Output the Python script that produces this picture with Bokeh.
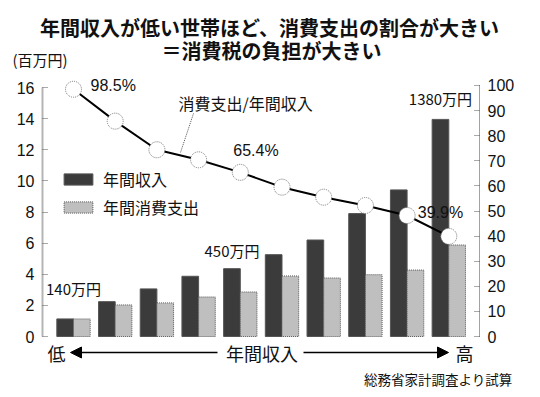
from bokeh.plotting import figure
from bokeh.layouts import column
from bokeh.models import (Range1d, LinearAxis, Label, Arrow, NormalHead,
                          Legend, LegendItem, ColumnDataSource, FixedTicker)
from bokeh.transform import dodge
from bokeh.embed import file_html
from bokeh.resources import INLINE

# ---- data ----
groups = [1, 2, 3, 4, 5, 6, 7, 8, 9, 10]
income = [1.13, 2.24, 3.06, 3.87, 4.36, 5.26, 6.2, 7.9, 9.42, 13.95]      # 百万円
spending = [1.13, 2.03, 2.16, 2.54, 2.86, 3.89, 3.76, 3.97, 4.27, 5.88]   # 百万円
ratio = [98.5, 85.8, 74.4, 70.4, 65.4, 59.5, 55.5, 52.2, 48.2, 39.9]      # %
left_ticks = [0, 2, 4, 6, 8, 10, 12, 14, 16]
right_ticks = [0, 10, 20, 30, 40, 50, 60, 70, 80, 90, 100]
income_labels = {1: "140万円", 5: "450万円", 10: "1380万円"}
ratio_labels = {1: "98.5%", 5: "65.4%", 10: "39.9%"}
title_lines = ["年間収入が低い世帯ほど、消費支出の割合が大きい", "＝消費税の負担が大きい"]
unit_text = "(百万円)"
source_text = "総務省家計調査より試算"

JP = "Noto Sans CJK JP"
NUM = "Liberation Sans"
DARK = "#3b3b3b"
LIGHT = "#bfbfbf"
INK = "#111111"
W = 524


def blank(height):
    f = figure(width=W, height=height, output_backend="svg", toolbar_location=None,
               x_range=Range1d(0, W), y_range=Range1d(0, height),
               x_axis_location=None, y_axis_location=None,
               min_border=0, min_border_left=0, min_border_right=0,
               min_border_top=0, min_border_bottom=0, frame_align=False)
    f.outline_line_color = None
    f.xgrid.visible = False
    f.ygrid.visible = False
    return f


# ---- header (titles) ----
top = blank(70)
top.add_layout(Label(x=269, y=43, text=title_lines[0], text_align="center", text_baseline="middle",
                     text_font=JP, text_font_size="20px", text_font_style="bold", text_color=INK))
top.add_layout(Label(x=271, y=20, text=title_lines[1], text_align="center", text_baseline="middle",
                     text_font=JP, text_font_size="20px", text_font_style="bold", text_color=INK))
top.add_layout(Label(x=12, y=11, text=unit_text, text_align="left", text_baseline="middle",
                     text_font=JP, text_font_size="15px", text_color=INK))

# ---- main chart ----
src = ColumnDataSource(dict(x=groups, income=income, spending=spending, ratio=ratio))

p = figure(width=W, height=296, output_backend="svg", toolbar_location=None,
           x_range=Range1d(0.2566, 10.736), y_range=Range1d(-1.9277, 17.0924),
           x_axis_location=None, frame_align=False,
           min_border_left=42, min_border_right=45, min_border_top=0, min_border_bottom=0)
p.outline_line_color = None
p.xgrid.visible = False
p.ygrid.visible = False
p.extra_y_ranges = {"pct": Range1d(-11.952, 105.976)}

ax = p.yaxis[0]
ax.ticker = FixedTicker(ticks=left_ticks)
ax.bounds = (0, 16)
ax.axis_line_color = "#b5b5b5"
ax.axis_line_width = 2
ax.major_tick_in = 5
ax.major_tick_out = 0
ax.major_tick_line_dash = "1 1"
ax.major_tick_line_color = "#555555"
ax.minor_tick_line_color = None
ax.major_label_text_font = NUM
ax.major_label_text_font_size = "16px"
ax.major_label_text_color = INK
ax.major_label_standoff = 8

rax = LinearAxis(y_range_name="pct", ticker=FixedTicker(ticks=right_ticks), bounds=(0, 100))
rax.axis_line_dash = "1 1"
rax.axis_line_color = "#444444"
rax.major_tick_in = 5
rax.major_tick_out = 0
rax.major_tick_line_dash = "1 1"
rax.major_tick_line_color = "#555555"
rax.minor_tick_line_color = None
rax.major_label_text_font = NUM
rax.major_label_text_font_size = "16px"
rax.major_label_text_color = INK
rax.major_label_standoff = 8
p.add_layout(rax, "right")

r_inc = p.vbar(x=dodge("x", -0.2, range=p.x_range), top="income", width=0.4, source=src,
               fill_color=DARK, line_color="#555555", line_width=1)
r_sp = p.vbar(x=dodge("x", 0.2, range=p.x_range), top="spending", width=0.4, source=src,
              fill_color=LIGHT, line_color="#555555", line_width=1, line_dash="1 1")

p.line("x", "ratio", source=src, y_range_name="pct", line_color="black", line_width=2)
p.scatter("x", "ratio", source=src, y_range_name="pct", size=16, fill_color="white",
          line_color="#777777", line_width=1, line_dash="1 1")

legend = Legend(items=[LegendItem(label="年間収入", renderers=[r_inc]),
                       LegendItem(label="年間消費支出", renderers=[r_sp])],
                location=(18, 147), padding=0, margin=0, spacing=4,
                glyph_width=36, glyph_height=14, label_height=14, label_standoff=7,
                border_line_alpha=0, background_fill_alpha=0,
                label_text_font=JP, label_text_font_size="16px", label_text_color=INK)
p.add_layout(legend, "center")

for g, t in income_labels.items():
    i = groups.index(g)
    off = 30 if g == 1 else (18 if g == 5 else 21)
    xo = 0.0 if g == 1 else -0.2
    p.add_layout(Label(x=g + xo, y=income[i], text=t, text_align="center", text_baseline="middle",
                       y_offset=off, text_font=JP, text_font_size="15px", text_color=INK))
for g, t in ratio_labels.items():
    i = groups.index(g)
    xo, yo = {1: (17, 4), 5: (-7, 22), 10: (-31, 24)}[g]
    p.add_layout(Label(x=g, y=ratio[i], y_range_name="pct", text=t, text_align="left",
                       text_baseline="middle", x_offset=xo, y_offset=yo,
                       text_font=NUM, text_font_size="16px", text_color=INK))


def slabel(x, y, text, size, align="left"):
    p.add_layout(Label(x=x, y=y, x_units="screen", y_units="screen", text=text,
                       text_align=align, text_baseline="middle", text_font=JP,
                       text_font_size=size, text_color=INK))


slabel(136, 264, "消費支出/年間収入", "16px")
p.add_layout(Arrow(x_start=151, y_start=253, x_end=138, y_end=214,
                   start_units="screen", end_units="screen", end=None,
                   line_color="#555555", line_width=1, line_dash="1 1"))

slabel(14, 14, "低", "18px", "center")
slabel(219.5, 14, "年間収入", "18px", "center")
slabel(422, 14, "高", "18px", "center")
for xs, xe in [(175, 28), (261, 406)]:
    p.add_layout(Arrow(x_start=xs, y_start=14, x_end=xe, y_end=14,
                       start_units="screen", end_units="screen",
                       end=NormalHead(size=11, fill_color="black", line_color="black"),
                       line_color="black", line_width=1.5))

# ---- footer (source) ----
bot = blank(22)
bot.add_layout(Label(x=512, y=10, text=source_text, text_align="right", text_baseline="middle",
                     text_font=JP, text_font_size="13.5px", text_color=INK))

layout = column(top, p, bot, spacing=0)
open("out.html", "w").write(file_html(layout, INLINE))
